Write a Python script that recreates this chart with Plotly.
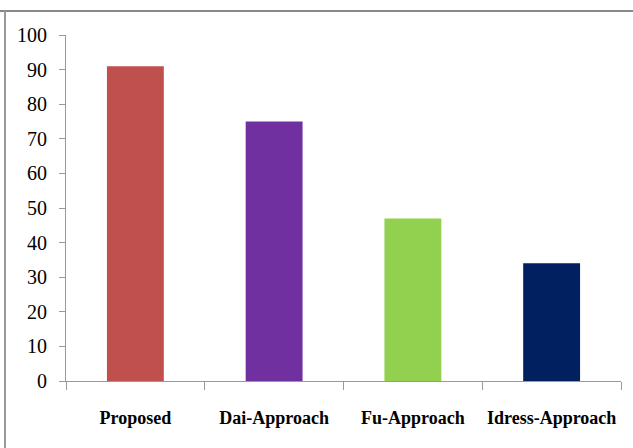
import plotly.graph_objects as go

categories = ["Proposed", "Dai-Approach", "Fu-Approach", "Idress-Approach"]
values = [91, 75, 47, 34]
colors = ["#C0504D", "#7030A0", "#92D050", "#002060"]
y_ticks = list(range(0, 101, 10))

fig = go.Figure(go.Bar(
    x=categories, y=values,
    marker=dict(color=colors, line=dict(width=0)),
))

fig.update_layout(
    width=633, height=448,
    margin=dict(l=66, r=12, t=35, b=67, autoexpand=False),
    paper_bgcolor="white", plot_bgcolor="white",
    bargap=0.59,
    showlegend=False,
    font=dict(family="Liberation Serif", color="black"),
    shapes=[
        dict(type="line", xref="paper", yref="paper",
             x0=-66/555, x1=(633-66)/555 + 0.01, y0=(448-67-11)/346, y1=(448-67-11)/346,
             line=dict(color="#888888", width=2)),
        dict(type="line", xref="paper", yref="paper",
             x0=-61/555, x1=-61/555, y0=(448-67-11)/346, y1=-0.3,
             line=dict(color="#999999", width=2)),
    ],
)

fig.update_xaxes(
    showline=True, linecolor="#999999", linewidth=1,
    ticks="outside", tickson="boundaries", ticklen=8, tickcolor="#999999",
    tickfont=dict(family="Liberation Serif", size=18, color="black", weight="bold"),
    tickangle=0, automargin=False,
    ticklabelstandoff=20,
    showgrid=False, range=[-0.5, 3.5],
)
fig.update_yaxes(
    range=[0, 100], tickvals=y_ticks,
    showline=True, linecolor="#999999", linewidth=1,
    ticks="outside", ticklen=6, tickcolor="#999999",
    tickfont=dict(family="Liberation Serif", size=20, color="black"),
    ticklabelstandoff=8, automargin=False,
    showgrid=False, zeroline=False,
)

fig.write_html("out.html")
